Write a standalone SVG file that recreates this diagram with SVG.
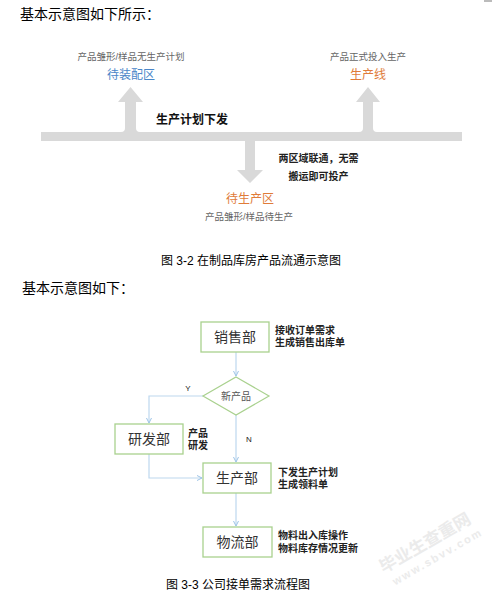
<svg xmlns="http://www.w3.org/2000/svg" width="492" height="595" viewBox="0 0 492 595">
<style>
text{font-family:"Liberation Sans","Noto Sans CJK SC",sans-serif;}
.h{font-size:14px;fill:#000;}
.cap{font-size:12px;fill:#000;}
.sub{font-size:9.5px;fill:#666;}
.blue{font-size:12px;fill:#4a86c8;}
.org{font-size:12px;fill:#e07b39;}
.bold{font-size:12px;font-weight:bold;fill:#111;}
.bold2{font-size:10px;font-weight:bold;fill:#222;}
.box{fill:#fff;stroke:#a9d18e;stroke-width:1.3;}
.bl{font-size:14px;fill:#333;text-anchor:middle;}
.note{font-size:10px;fill:#222;font-weight:bold;}
.ln{fill:none;stroke:#bdd7ee;stroke-width:1.2;}
.yn{font-size:8px;fill:#222;}
.wm{font-weight:bold;fill:#ebebeb;}
</style>
<defs>
<marker id="ah" markerWidth="6" markerHeight="6" refX="5" refY="3" orient="auto" markerUnits="userSpaceOnUse">
<path d="M0,0.5 L5,3 L0,5.5" fill="none" stroke="#9dc3e6" stroke-width="1"/>
</marker>
</defs>
<rect x="484" y="0" width="8" height="2" fill="#bbb"/>
<text class="h" x="20" y="19">基本示意图如下所示：</text>
<g id="top-diagram">
<path d="M41,132 H121 Q125,132 125,128 V102 H118 L130.5,87 L143,102 H136 V128 Q136,132 140,132 H359 Q363,132 363,128 V102 H356 L368,87 L380,102 H373 V128 Q373,132 377,132 H462 V141 H255 V170 H263 L250,183 L237,170 H245 V141 H41 Z" fill="#d9d9d9"/>
</g>
<g id="node-assembly">
<text class="sub" x="131" y="60" text-anchor="middle">产品雏形/样品无生产计划</text>
<text class="blue" x="131" y="79" text-anchor="middle">待装配区</text>
</g>
<g id="node-line">
<text class="sub" x="368" y="60" text-anchor="middle">产品正式投入生产</text>
<text class="org" x="368" y="79" text-anchor="middle">生产线</text>
</g>
<text class="bold" x="156" y="124">生产计划下发</text>
<text class="bold2" x="318.5" y="162" text-anchor="middle">两区域联通，无需</text>
<text class="bold2" x="318.5" y="180" text-anchor="middle">搬运即可投产</text>
<g id="node-wait">
<text class="org" x="250" y="203" text-anchor="middle">待生产区</text>
<text class="sub" x="249" y="220" text-anchor="middle">产品雏形/样品待生产</text>
</g>
<text class="cap" x="251" y="265" text-anchor="middle">图 3-2  在制品库房产品流通示意图</text>
<text class="h" x="22" y="293">基本示意图如下：</text>
<g id="connectors">
<line class="ln" x1="236" y1="352" x2="236" y2="376" marker-end="url(#ah)"/>
<polyline class="ln" points="203,396 149,396 149,423" marker-end="url(#ah)"/>
<line class="ln" x1="236" y1="415" x2="236" y2="462" marker-end="url(#ah)"/>
<polyline class="ln" points="149,454 149,478 202,478" marker-end="url(#ah)"/>
<line class="ln" x1="236" y1="493" x2="236" y2="526" marker-end="url(#ah)"/>
<text class="yn" x="188" y="391" text-anchor="middle">Y</text>
<text class="yn" x="249" y="442" text-anchor="middle">N</text>
</g>
<g id="node-sales">
<rect class="box" x="201" y="322" width="68" height="30"/>
<text class="bl" x="235" y="342">销售部</text>
<text class="note" x="275" y="334">接收订单需求</text>
<text class="note" x="275" y="346">生成销售出库单</text>
</g>
<g id="node-new">
<polygon points="236,377 269,396 236,415 203,396" fill="#fff" stroke="#a9d18e" stroke-width="1.2"/>
<text x="236" y="399.5" font-size="10" fill="#555" text-anchor="middle">新产品</text>
</g>
<g id="node-rd">
<rect class="box" x="115" y="424" width="68" height="30"/>
<text class="bl" x="149" y="444">研发部</text>
<text class="note" x="188" y="437">产品</text>
<text class="note" x="188" y="449">研发</text>
</g>
<g id="node-prod">
<rect class="box" x="203" y="463" width="68" height="30"/>
<text class="bl" x="237" y="483">生产部</text>
<text class="note" x="278" y="476">下发生产计划</text>
<text class="note" x="278" y="488">生成领料单</text>
</g>
<g id="node-log">
<rect class="box" x="203" y="527" width="69" height="30"/>
<text class="bl" x="237.5" y="547">物流部</text>
<text class="note" x="278" y="539">物料出入库操作</text>
<text class="note" x="278" y="552">物料库存情况更新</text>
</g>
<text class="cap" x="238" y="589" text-anchor="middle">图 3-3  公司接单需求流程图</text>
<g transform="translate(428,548) rotate(-30)">
<text class="wm" x="0" y="0" font-size="17" text-anchor="middle">毕业生查重网</text>
<text class="wm" x="4" y="16" font-size="11" text-anchor="middle" letter-spacing="2">www.sbvv.com</text>
</g>
</svg>
